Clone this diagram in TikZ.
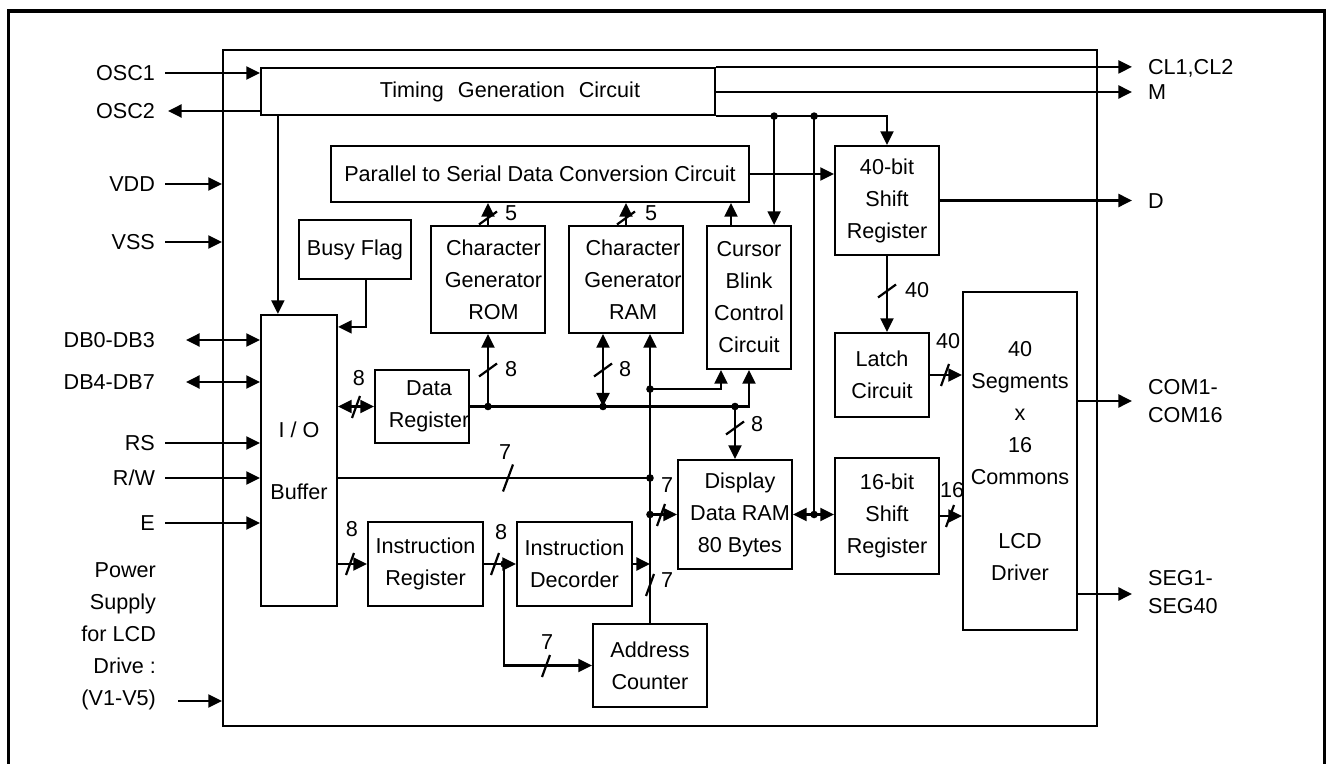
\documentclass[tikz,border=0pt]{standalone}
\usepackage{fontspec}
\setmainfont{Liberation Sans}
\usetikzlibrary{arrows.meta,calc}
\begin{document}
\begin{tikzpicture}[x=0.5pt,y=-0.5pt,line width=1.1pt,
 font=\fontsize{10.8}{16}\selectfont,
 >={Triangle[length=6.8pt,width=6.5pt]},
 box/.style={draw,rectangle,inner sep=0pt,align=center},
 lbl/.style={inner sep=0pt},
 num/.style={inner sep=0pt},
 vslash/.pic={\draw (-9,6.5) -- (9,-6.5);},
 hslash/.pic={\draw (-4,11) -- (4,-11);},
 lslash/.pic={\draw (-5,13.5) -- (5,-13.5);}]

\useasboundingbox (0,0) rectangle (1327,764);

% outer frame
\draw[line width=1.7pt] (8.5,770) -- (8.5,11) -- (1324.5,11) -- (1324.5,770);

% chip outline
\node[box,minimum width=437pt,minimum height=338pt] (chip) at (660,388) {};

% blocks
\node[box,minimum width=227pt,minimum height=23.5pt,label={[xshift=11pt]center:Timing\hspace{4pt} Generation\hspace{4pt} Circuit}] (tgc) at (488,91.5) {};
\node[box,minimum width=209pt,minimum height=28pt] (p2s) at (540,174) {Parallel to Serial Data Conversion Circuit};
\node[box,minimum width=56pt,minimum height=29.5pt] (busy) at (355,249.5) {Busy Flag};
\node[box,minimum width=57pt,minimum height=53.5pt,label={[xshift=2.75pt,align=center]center:Character\\Generator\\ROM}] (rom) at (488,279.5) {};
\node[box,minimum width=57pt,minimum height=53.5pt,label={[xshift=3.5pt,align=center]center:Character\\Generator\\RAM}] (ram) at (626,279.5) {};
\node[box,minimum width=42pt,minimum height=71.5pt] (cur) at (749,297.5) {Cursor\\Blink\\Control\\Circuit};
\node[box,minimum width=52pt,minimum height=54.5pt] (sr40) at (887,200.5) {40-bit\\Shift\\Register};
\node[box,minimum width=47pt,minimum height=42pt] (latch) at (882,375) {Latch\\Circuit};
\node[box,minimum width=57pt,minimum height=169pt] (lcd) at (1020,461) {40\\Segments\\x\\16\\Commons\\[16pt]LCD\\Driver};
\node[box,minimum width=38pt,minimum height=145.5pt] (io) at (299,460.5) {I / O\\[15pt]Buffer};
\node[box,minimum width=47pt,minimum height=36.5pt,label={[xshift=3.5pt,align=center]center:Data\\Register}] (dr) at (422,406.5) {};
\node[box,minimum width=57pt,minimum height=54.5pt,label={[xshift=2.5pt,align=center]center:Display\\Data RAM\\80 Bytes}] (ddram) at (735,514.5) {};
\node[box,minimum width=52pt,minimum height=58pt] (sr16) at (887,516) {16-bit\\Shift\\Register};
\node[box,minimum width=57.5pt,minimum height=42pt] (ir) at (425.5,564) {Instruction\\Register};
\node[box,minimum width=57.5pt,minimum height=42pt] (id) at (574.5,564) {Instruction\\Decorder};
\node[box,minimum width=57pt,minimum height=41.5pt] (ac) at (650,665.5) {Address\\Counter};

% left pin labels
\node[lbl,anchor=east] (osc1) at (156,73) {OSC1};
\node[lbl,anchor=east] (osc2) at (156,111) {OSC2};
\node[lbl,anchor=east] (vdd) at (156,184) {VDD};
\node[lbl,anchor=east] (vss) at (156,242) {VSS};
\node[lbl,anchor=east] (db03) at (156,340) {DB0-DB3};
\node[lbl,anchor=east] (db47) at (156,382) {DB4-DB7};
\node[lbl,anchor=east] (rs) at (156,443) {RS};
\node[lbl,anchor=east] (rw) at (156,478) {R/W};
\node[lbl,anchor=east] (e) at (156,523) {E};
\node[lbl,anchor=east,align=right] (pwr) at (157,636) {Power\\Supply\\for LCD\\Drive :\\(V1-V5)};

% right pin labels
\node[lbl,anchor=west] (cl) at (1147,68) {CL1,CL2};
\node[lbl,anchor=west] (m) at (1147,92) {M};
\node[lbl,anchor=west] (d) at (1147,201) {D};
\node[lbl,anchor=west,align=left] (com) at (1147,401) {COM1-\\[-2pt]COM16};
\node[lbl,anchor=west,align=left] (seg) at (1147,592) {SEG1-\\[-2pt]SEG40};

% pins
\draw[->] ($(osc1.east)+(9,0)$) -- (osc1.east -| tgc.west);
\draw[->] (osc2.east -| tgc.west) -- ($(osc2.east)+(12,0)$);
\draw[->] ($(vdd.east)+(9,0)$) -- (vdd.east -| chip.west);
\draw[->] ($(vss.east)+(9,0)$) -- (vss.east -| chip.west);
\coordinate (pwrin) at (178,701);
\draw[->] (pwrin) -- (pwrin -| chip.west);
\draw[<->] ($(db03.east)+(30,0)$) -- (db03.east -| io.west);
\draw[<->] ($(db47.east)+(30,0)$) -- (db47.east -| io.west);
\draw[->] ($(rs.east)+(9,0)$) -- (rs.east -| io.west);
\draw[->] ($(rw.east)+(9,0)$) -- (rw.east -| io.west);
\draw[->] ($(e.east)+(9,0)$) -- (e.east -| io.west);

% timing
\coordinate (tg1) at ($(tgc.south west)+(18,0)$);
\draw[->] (tg1) -- (tg1 |- io.north);
\coordinate (bf1) at ($(busy.south)+(11,0)$);
\coordinate (bf2) at ($(io.north east)+(0,13)$);
\draw[->] (bf1) |- (bf2);
\coordinate (clend) at ($(cl.west)+(-15,0)$);
\draw[->] (tgc.north east) -- (tgc.north east -| clend);
\coordinate (mend) at ($(m.west)+(-15,0)$);
\draw[->] (tgc.east |- mend) -- (mend);
\draw[->] (tgc.south east) -| (sr40.north);
\coordinate (t1) at ($(tgc.south east)+(58,0)$);
\coordinate (t2) at ($(tgc.south east)+(98,0)$);
\draw[->] (t1) -- (t1 |- cur.north);
\coordinate (t3) at (t2 |- ddram.east);
\draw (t2) -- (t3);
\draw[<->] (ddram.east) -- (ddram.east -| sr16.west);
\draw[->] (p2s.east) -- (p2s.east -| sr40.west);
\coordinate (dend) at ($(d.west)+(-15,0)$);
\draw[->] (sr40.east) -- (sr40.east -| dend);
\draw[->] (sr40.south) -- (sr40.south |- latch.north);
\draw[->] (latch.east) -- (latch.east -| lcd.west);
\draw[->] (sr16.east) -- (sr16.east -| lcd.west);
\coordinate (comend) at ($(com.west)+(-15,0)$);
\draw[->] (lcd.east |- comend) -- (comend);
\coordinate (segend) at ($(seg.west)+(-15,2)$);
\draw[->] (lcd.east |- segend) -- (segend);

% into parallel-to-serial
\draw[->] (rom.north) -- (rom.north |- p2s.south);
\draw[->] (ram.north) -- (ram.north |- p2s.south);
\coordinate (c1) at ($(cur.north)+(-18,0)$);
\draw[->] (c1) -- (c1 |- p2s.south);

% data bus
\draw[<->] (io.east |- dr.west) -- (dr.west);
\coordinate (b1) at (rom.south |- dr.east);
\coordinate (b2) at ($(ram.south |- dr.east)+(-23,0)$);
\coordinate (b3) at (ddram.north |- dr.east);
\draw[->] (dr.east) -| (cur.south);
\draw[->] (b1) -- (rom.south);
\draw[<->] (b2) -- (b2 |- ram.south);
\draw[->] (b3) -- (ddram.north);

% address bus
\draw[->] (ac.north) -- (ac.north |- ram.south);
\coordinate (a1) at ($(ac.north |- ram.south)+(0,55)$);
\coordinate (c2) at ($(cur.south)+(-28,0)$);
\draw[->] (a1) -| (c2);
\coordinate (a2) at (ac.north |- rw.east);
\draw (io.east |- rw.east) -- (a2);
\coordinate (a3) at (ac.north |- ddram.west);
\draw[->] (a3) -- (ddram.west);
\draw[->] (id.east) -- (id.east -| ac.north);
\draw[->] (io.east |- ir.west) -- (ir.west);
\draw[->] (ir.east) -- (id.west);
\coordinate (j1) at ($(ir.east)+(20,0)$);
\draw[->] (j1) |- (ac.west);

\foreach \p in {t1,t2,t3,b1,b2,b3,a1,a2,a3,j1} \fill (\p) circle[radius=1.9pt];

% bus width marks
\path (488,218) pic{vslash}; \node[num] (w1) at (511,213) {5};
\path (626,218) pic{vslash}; \node[num] (w2) at (651,213) {5};
\path (488,370) pic{vslash}; \node[num] (w3) at (511,369) {8};
\path (603,370) pic{vslash}; \node[num] (w4) at (625,369) {8};
\path (735,428) pic{vslash}; \node[num] (w5) at (757,424) {8};
\path (356,407) pic{hslash}; \node[num] (w6) at (359,378) {8};
\path (508,478) pic{lslash}; \node[num] (w7) at (505,452) {7};
\path (661,515) pic{hslash}; \node[num] (w8) at (667,485) {7};
\path (650,585) pic{hslash}; \node[num] (w9) at (667,580) {7};
\path (350,564) pic{hslash}; \node[num] (w10) at (352,529) {8};
\path (495,564) pic{hslash}; \node[num] (w11) at (501,532) {8};
\path (546,666) pic{hslash}; \node[num] (w12) at (547,642) {7};
\path (887,291) pic{vslash}; \node[num] (w13) at (917,290) {40};
\path (945,375) pic{hslash}; \node[num] (w14) at (948,341) {40};
\path (950,516) pic{hslash}; \node[num] (w15) at (952,490) {16};
\end{tikzpicture}
\end{document}
